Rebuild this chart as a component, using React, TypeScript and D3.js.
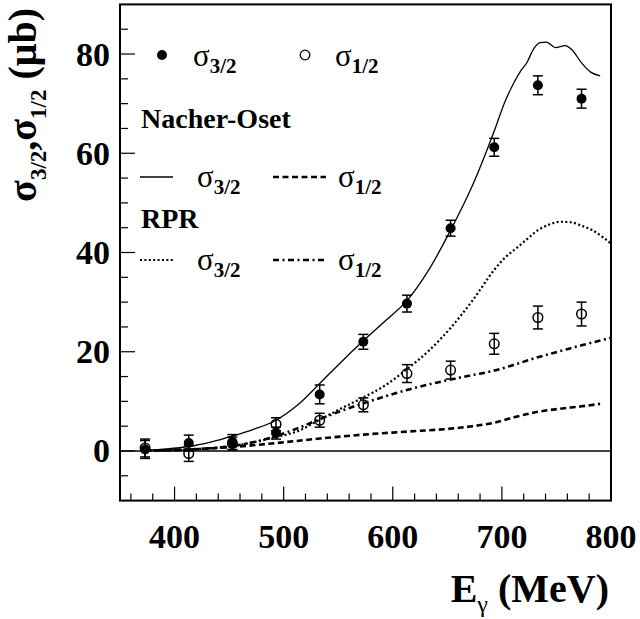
import React from 'react';
import * as d3 from 'd3';

// Measured points (E_gamma in MeV, cross sections in microbarn)
const energies = [373, 413, 453, 493, 533, 573, 613, 653, 693, 733, 773];
const sigma32 = [0.3, 1.6, 1.8, 3.6, 11.4, 22.0, 29.7, 44.9, 61.2, 73.7, 71.0];
const sigma32Err = [1.8, 1.6, 1.5, 1.2, 1.9, 1.5, 1.7, 1.6, 1.8, 1.9, 1.9];
const sigma12 = [0.6, -0.5, 1.5, 5.4, 6.2, 9.3, 15.6, 16.3, 21.6, 26.9, 27.6];
const sigma12Err = [1.8, 1.6, 1.3, 1.3, 1.4, 1.4, 1.8, 1.8, 2.1, 2.3, 2.4];

// Nacher-Oset sigma 3/2 (solid)
const noS32E = [373, 393, 413, 433, 453, 473, 493, 513, 533, 553, 573, 593, 613, 633, 653, 673, 693, 703, 711, 717, 723, 729, 735, 741, 749, 758, 764, 773, 781, 790];
const noS32V = [0.1, 0.4, 0.9, 1.8, 3.0, 4.4, 6.2, 9.3, 13.6, 18.0, 22.2, 26.2, 30.3, 36.5, 44.5, 53.5, 64.5, 70.5, 74.2, 76.5, 78.3, 81.0, 82.3, 82.4, 81.3, 81.7, 80.9, 78.2, 76.4, 75.6];
// Nacher-Oset sigma 1/2 (dashed)
const noS12E = [373, 413, 453, 493, 533, 573, 613, 653, 673, 693, 713, 733, 753, 773, 790];
const noS12V = [0.05, 0.3, 0.8, 1.6, 2.5, 3.3, 3.9, 4.5, 5.0, 5.7, 6.9, 7.9, 8.5, 9.0, 9.5];
// RPR sigma 3/2 (dotted)
const rprS32E = [373, 413, 453, 473, 493, 513, 533, 553, 573, 593, 613, 633, 653, 673, 693, 703, 713, 723, 733, 743, 753, 763, 773, 783, 793, 800];
const rprS32V = [0.1, 0.3, 1.0, 1.8, 2.8, 4.0, 6.3, 8.6, 10.8, 13.2, 16.5, 20.2, 24.8, 30.3, 36.5, 39.0, 40.8, 42.7, 44.5, 45.6, 46.2, 46.1, 45.4, 44.5, 43.0, 41.8];
// RPR sigma 1/2 (dash-dot)
const rprS12E = [373, 413, 453, 473, 493, 513, 533, 553, 573, 593, 613, 633, 653, 673, 693, 713, 733, 753, 773, 800];
const rprS12V = [0.1, 0.3, 1.0, 1.8, 3.0, 4.6, 6.4, 8.1, 9.6, 11.0, 12.3, 13.4, 14.4, 15.3, 16.2, 17.5, 18.9, 20.1, 21.3, 22.8];

const xMajorTicks = [400, 500, 600, 700];
const xTickLabels = [400, 500, 600, 700, 800];
const yMajorTicks = [0, 20, 40, 60, 80];

const FONT = "'Liberation Serif', 'Times New Roman', serif";

export default function App() {
  const x = d3.scaleLinear().domain([350, 800]).range([120, 611]);
  const y = d3.scaleLinear().domain([-10, 90]).range([500.6, 4.4]);
  const mk = (es: number[], vs: number[]) =>
    d3.line<[number, number]>()
      .x(d => x(d[0]))
      .y(d => y(d[1]))
      .curve(d3.curveMonotoneX)(es.map((e, i) => [e, vs[i]] as [number, number])) || '';

  const xMinor = d3.range(360, 800, 20).filter(v => v % 100 !== 0);
  const yMinor = d3.range(-5, 90, 5).filter(v => v % 20 !== 0);
  const [x0, x1] = x.range();
  const [yb, yt] = y.range();

  const sig = (sub: string, px: number, py: number, size = 31, subSize = 21) => (
    <text x={px} y={py} fontFamily={FONT} fontSize={size}>
      σ<tspan fontSize={subSize} fontWeight="bold" dy={7}>{sub}</tspan>
    </text>
  );

  const errBar = (e: number, v: number, err: number) => (
    <>
      <line x1={x(e)} x2={x(e)} y1={y(v - err)} y2={y(v + err)} stroke="#000" strokeWidth={1.5} />
      <line x1={x(e) - 5} x2={x(e) + 5} y1={y(v - err)} y2={y(v - err)} stroke="#000" strokeWidth={1.5} />
      <line x1={x(e) - 5} x2={x(e) + 5} y1={y(v + err)} y2={y(v + err)} stroke="#000" strokeWidth={1.5} />
    </>
  );

  return (
    <svg width={640} height={619} style={{ position: 'absolute', left: 0, top: 0, background: '#fff' }}>
      <rect x={0} y={0} width={640} height={619} fill="#fff" />
      {/* zero line */}
      <line x1={x0} x2={x1} y1={y(0)} y2={y(0)} stroke="#000" strokeWidth={1.6} />
      {/* curves */}
      <path d={mk(noS32E, noS32V)} fill="none" stroke="#000" strokeWidth={1.3} />
      <path d={mk(noS12E, noS12V)} fill="none" stroke="#000" strokeWidth={2.6} strokeDasharray="6,3.5" />
      <path d={mk(rprS32E, rprS32V)} fill="none" stroke="#000" strokeWidth={2.2} strokeDasharray="2,2.4" />
      <path d={mk(rprS12E, rprS12V)} fill="none" stroke="#000" strokeWidth={2.6} strokeDasharray="6,3.5,2,3.5" />
      {/* open points */}
      {energies.map((e, i) => (
        <g key={'o' + i}>
          {errBar(e, sigma12[i], sigma12Err[i])}
          <circle cx={x(e)} cy={y(sigma12[i])} r={4.8} fill="none" stroke="#000" strokeWidth={1.5} />
        </g>
      ))}
      {/* filled points */}
      {energies.map((e, i) => (
        <g key={'f' + i}>
          {errBar(e, sigma32[i], sigma32Err[i])}
          <circle cx={x(e)} cy={y(sigma32[i])} r={5} fill="#000" />
        </g>
      ))}
      {/* frame */}
      <rect x={x0} y={yt} width={x1 - x0} height={yb - yt} fill="none" stroke="#000" strokeWidth={2} />
      {/* x ticks */}
      {xMajorTicks.map(v => (
        <line key={'xM' + v} x1={x(v)} x2={x(v)} y1={yb} y2={yb - 14} stroke="#000" strokeWidth={1.2} />
      ))}
      {xMinor.map(v => (
        <line key={'xm' + v} x1={x(v)} x2={x(v)} y1={yb} y2={yb - 7} stroke="#000" strokeWidth={1.2} />
      ))}
      {xTickLabels.map(v => (
        <text key={'xl' + v} x={x(v)} y={548} textAnchor="middle" fontFamily={FONT} fontWeight="bold" fontSize={34}>{v}</text>
      ))}
      {/* y ticks */}
      {yMajorTicks.map(v => (
        <line key={'yM' + v} x1={x0} x2={x0 + 15} y1={y(v)} y2={y(v)} stroke="#000" strokeWidth={1.2} />
      ))}
      {yMinor.map(v => (
        <line key={'ym' + v} x1={x0} x2={x0 + 8} y1={y(v)} y2={y(v)} stroke="#000" strokeWidth={1.2} />
      ))}
      {yMajorTicks.map(v => (
        <text key={'yl' + v} x={110} y={y(v) + 11.5} textAnchor="end" fontFamily={FONT} fontWeight="bold" fontSize={34}>{v}</text>
      ))}
      {/* axis titles */}
      <text x={609} y={602} textAnchor="end" fontFamily={FONT} fontWeight="bold" fontSize={40}>
        E<tspan fontSize={24} fontWeight="normal" dy={10}>γ</tspan><tspan dy={-10}> (MeV)</tspan>
      </text>
      <text transform="translate(36,8) rotate(-90)" textAnchor="end" fontFamily={FONT} fontWeight="bold" fontSize={40}>
        σ<tspan fontSize={23} dy={10}>3/2</tspan><tspan dy={-10}>,σ</tspan><tspan fontSize={23} dy={10}>1/2</tspan><tspan dy={-10}> (μb)</tspan>
      </text>
      {/* legend */}
      <circle cx={162} cy={55} r={5} fill="#000" />
      {sig('3/2', 193, 66)}
      <circle cx={305} cy={55} r={4.8} fill="none" stroke="#000" strokeWidth={1.3} />
      {sig('1/2', 335, 66)}
      <text x={141} y={128} fontFamily={FONT} fontWeight="bold" fontSize={28}>Nacher-Oset</text>
      <line x1={140} x2={173} y1={177} y2={177} stroke="#000" strokeWidth={1.3} />
      {sig('3/2', 197, 187)}
      <line x1={273} x2={326} y1={177} y2={177} stroke="#000" strokeWidth={2.6} strokeDasharray="6,3.5" />
      {sig('1/2', 338, 187)}
      <text x={141} y={228} fontFamily={FONT} fontWeight="bold" fontSize={28}>RPR</text>
      <line x1={140} x2={173} y1={260} y2={260} stroke="#000" strokeWidth={2.2} strokeDasharray="2,2.4" />
      {sig('3/2', 197, 270)}
      <line x1={273} x2={326} y1={260} y2={260} stroke="#000" strokeWidth={2.6} strokeDasharray="6,3.5,2,3.5" />
      {sig('1/2', 338, 270)}
    </svg>
  );
}
